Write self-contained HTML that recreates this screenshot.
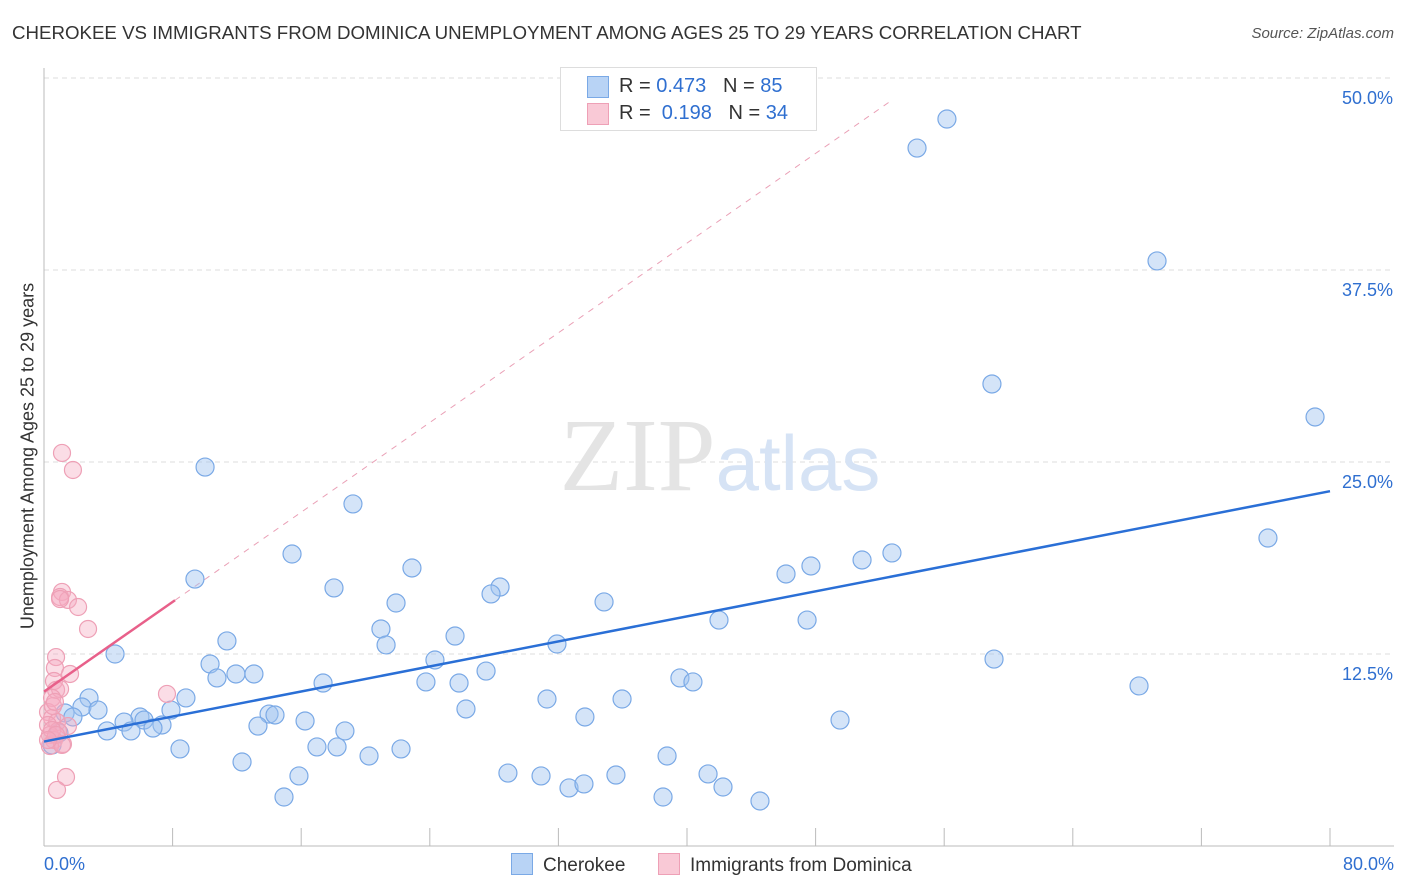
<!DOCTYPE html>
<html><head><meta charset="utf-8"><style>
body{margin:0;background:#fff;font-family:"Liberation Sans",sans-serif;}
#wrap{position:relative;width:1406px;height:892px;overflow:hidden;}
.t{position:absolute;white-space:nowrap;}
</style></head><body>
<div id="wrap">
<div class="t" style="left:12px;top:22px;font-size:18.7px;color:#333;">CHEROKEE VS IMMIGRANTS FROM DOMINICA UNEMPLOYMENT AMONG AGES 25 TO 29 YEARS CORRELATION CHART</div>
<div class="t" style="right:12px;top:25px;font-size:15px;color:#555;font-style:italic;">Source: ZipAtlas.com</div>
<div class="t" style="left:28px;top:456px;font-size:18px;color:#333;transform:translate(-50%,-50%) rotate(-90deg);">Unemployment Among Ages 25 to 29 years</div>
<svg id="svg" width="1406" height="892" style="position:absolute;left:0;top:0"></svg>
<div class="t" style="left:560px;top:67px;width:255px;height:62px;border:1px solid #ddd;background:#fff;font-size:20px;color:#333;">
 <div style="position:absolute;left:26px;top:8px;width:20px;height:20px;background:#b8d3f5;border:1px solid #7aa9e6;"></div>
 <div style="position:absolute;left:58px;top:7px;">R = <span style="color:#2f6fd0">0.473</span>&nbsp;&nbsp;&nbsp;N = <span style="color:#2f6fd0">85</span></div>
 <div style="position:absolute;left:26px;top:35px;width:20px;height:20px;background:#f9c9d6;border:1px solid #eea0b6;"></div>
 <div style="position:absolute;left:58px;top:34px;">R = &nbsp;<span style="color:#2f6fd0">0.198</span>&nbsp;&nbsp;&nbsp;N = <span style="color:#2f6fd0">34</span></div>
</div>
<div class="t" style="left:511px;top:853px;font-size:19px;color:#333;"><span style="display:inline-block;width:20px;height:20px;background:#b8d3f5;border:1px solid #7aa9e6;vertical-align:-4px;margin-right:10px;"></span>Cherokee</div>
<div class="t" style="left:658px;top:853px;font-size:19px;color:#333;"><span style="display:inline-block;width:20px;height:20px;background:#f9c9d6;border:1px solid #eea0b6;vertical-align:-4px;margin-right:10px;"></span>Immigrants from Dominica</div>
</div>
<script>
const xTickLabels=["0.0%","80.0%"];
const yTicks=[12.5,25,37.5,50];
const yTickLabels=["12.5%","25.0%","37.5%","50.0%"];
const bluePx=[[947,119],[917,148],[1157,261],[992,384],[1315,417],[205,467],[353,504],[1268,538],[892,553],[292,554],[862,560],[811,566],[412,568],[786,574],[195,579],[334,588],[500,587],[491,594],[396,603],[604,602],[719,620],[807,620],[381,629],[455,636],[386,645],[557,644],[227,641],[115,654],[435,660],[994,659],[210,664],[236,674],[254,674],[217,678],[486,671],[680,678],[693,682],[323,683],[426,682],[459,683],[1139,686],[186,698],[89,698],[547,699],[622,699],[82,707],[98,710],[65,713],[171,710],[466,709],[269,714],[275,715],[140,717],[73,717],[585,717],[124,722],[144,720],[162,725],[305,721],[840,720],[258,726],[153,728],[107,731],[131,731],[345,731],[59,733],[317,747],[337,747],[401,749],[180,749],[369,756],[667,756],[242,762],[299,776],[508,773],[541,776],[616,775],[708,774],[569,788],[584,784],[723,787],[284,797],[663,797],[760,801],[52,745]];
const pinkPx=[[62,453],[73,470],[62,592],[60,597],[68,600],[78,607],[88,629],[56,657],[55,668],[70,674],[54,681],[56,690],[60,689],[52,698],[167,694],[48,712],[52,718],[57,722],[48,725],[68,726],[58,731],[50,735],[54,740],[63,744],[50,746],[66,777],[57,790],[60,599],[53,706],[52,730],[56,735],[62,745],[48,740],[55,702]];
const blueX=bluePx.map(p=>+((p[0]-44)*80/1286).toFixed(2));
const blueY=bluePx.map(p=>+((846-p[1])/15.36).toFixed(2));
const pinkX=pinkPx.map(p=>+((p[0]-44)*80/1286).toFixed(2));
const pinkY=pinkPx.map(p=>+((846-p[1])/15.36).toFixed(2));
const blueTrend=[6.8,23.1];
const pinkTrend=[10.05,16.0];
const X=v=>44+v*1286/80, Y=v=>846-v*15.36;
const NS="http://www.w3.org/2000/svg", svg=document.getElementById('svg');
function mk(tag,a){const e=document.createElementNS(NS,tag);for(const k in a)e.setAttribute(k,a[k]);svg.appendChild(e);return e;}
yTicks.forEach((v,i)=>{
 const g=mk('line',{x1:44,x2:1394,y1:Y(v),y2:Y(v),stroke:'#ddd','stroke-dasharray':'5,4'});
 
 
 const t=mk('text',{x:1393,y:Y(v)+26,'text-anchor':'end','font-size':18,fill:'#2f6fd0','font-family':'Liberation Sans'});
 t.textContent=yTickLabels[i];
 
 
});
const ax=mk('line',{x1:44,x2:44,y1:68,y2:846,stroke:'#bbb'});


const axx=mk('line',{x1:44,x2:1394,y1:846,y2:846,stroke:'#bbb'});


for(let i=0;i<=10;i++){const tk=mk('line',{x1:X(i*8),x2:X(i*8),y1:828,y2:846,stroke:'#bbb'});
 
 }
[[0,'start',44],[80,'end',1394]].forEach((d,i)=>{const t=mk('text',{x:d[2],y:870,'text-anchor':d[1],'font-size':18,fill:'#2f6fd0','font-family':'Liberation Sans'});t.textContent=xTickLabels[i];
 
 });
const wm=mk('text',{x:720,y:490,'text-anchor':'middle','font-size':104,'font-family':'Liberation Serif',fill:'#e4e4e4'});
wm.innerHTML='ZIP<tspan fill="#d6e3f5" font-family="Liberation Sans" font-size="78">atlas</tspan>';


const pd=mk('line',{x1:X(8.15),y1:Y(pinkTrend[1]),x2:X(52.6),y2:Y(pinkTrend[0]+(pinkTrend[1]-pinkTrend[0])/8.15*52.6),stroke:'#eaa0b6','stroke-dasharray':'6,6','stroke-width':1});


bluePx.forEach((_,i)=>{const c=mk('circle',{cx:X(blueX[i]),cy:Y(blueY[i]),r:9,fill:'rgba(160,196,240,0.45)',stroke:'#7aa9e6','stroke-width':1.2});
 
 });
pinkPx.forEach((_,i)=>{const c=mk('circle',{cx:X(pinkX[i]),cy:Y(pinkY[i]),r:8.5,fill:'rgba(245,170,192,0.4)',stroke:'#eea0b6','stroke-width':1.2});
 
 });
const bl=mk('line',{x1:X(0),y1:Y(blueTrend[0]),x2:X(80),y2:Y(blueTrend[1]),stroke:'#2a6fd6','stroke-width':2.5});


const pl=mk('line',{x1:X(0),y1:Y(pinkTrend[0]),x2:X(8.15),y2:Y(pinkTrend[1]),stroke:'#e8608a','stroke-width':2.5});


</script>
</body></html>
